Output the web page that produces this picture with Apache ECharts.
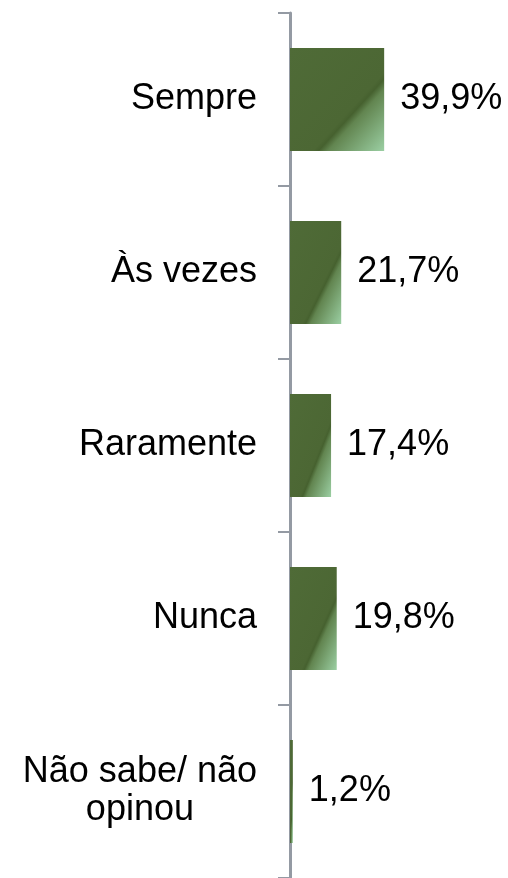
<!DOCTYPE html>
<html>
<head>
<meta charset="utf-8">
<script src="https://cdn.jsdelivr.net/npm/echarts@6/dist/echarts.min.js"></script>
<style>
html,body{margin:0;padding:0;background:#fff;}
#c{width:508px;height:878px;}
</style>
</head>
<body>
<div id="c"></div>
<script>
const categories = ['Sempre', 'Às vezes', 'Raramente', 'Nunca', 'Não sabe/ não\nopinou'];
const values = [39.9, 21.7, 17.4, 19.8, 1.2];

const FONT = '"Liberation Sans", Arial, sans-serif';
const BAR_W = 103;
const X_MAX = 50;
const GRID_W = 118;
const AXIS_COLOR = '#949aa3';

const chart = echarts.init(document.getElementById('c'), null, {renderer: 'canvas'});

function fmtPct(v) { return v.toFixed(1).replace('.', ',') + '%'; }

// diagonal gradient whose isolines run parallel to the bar's anti-diagonal
function barGradient(v) {
  const w = Math.max(0.5, v / X_MAX * GRID_W);
  const h = BAR_W;
  const d = h * h + w * w;
  return new echarts.graphic.LinearGradient(0, 0, 2 * h * h / d, 2 * w * w / d, [
    {offset: 0, color: '#4f6b37'},
    {offset: 0.62, color: '#4c6734'},
    {offset: 0.65, color: '#46612f'},
    {offset: 0.70, color: '#628550'},
    {offset: 1, color: '#9bcfa3'}
  ]);
}

const option = {
  animation: false,
  backgroundColor: '#ffffff',
  grid: {left: 290, top: 13, width: GRID_W, height: 867, containLabel: false},
  xAxis: {type: 'value', min: 0, max: X_MAX, show: false},
  yAxis: {
    type: 'category',
    inverse: true,
    data: categories,
    axisLine: {show: true, lineStyle: {color: AXIS_COLOR, width: 3}},
    axisTick: {show: true, length: 12, inside: false, lineStyle: {color: AXIS_COLOR, width: 2}},
    splitLine: {show: false},
    axisLabel: {
      interval: 0,
      margin: 33,
      color: '#000',
      fontFamily: FONT,
      fontSize: 36,
      lineHeight: 38,
      formatter: function (v) {
        return v.indexOf('\n') >= 0 ? '{c|' + v + '}' : v;
      },
      rich: {
        c: {align: 'center', color: '#000', fontFamily: FONT, fontSize: 36, lineHeight: 38}
      }
    }
  },
  series: [{
    type: 'bar',
    barWidth: BAR_W,
    data: values.map(function (v) {
      return {value: v, itemStyle: {color: barGradient(v)}};
    }),
    label: {
      show: true,
      position: 'right',
      distance: 16,
      color: '#000',
      fontFamily: FONT,
      fontSize: 36,
      formatter: function (p) { return fmtPct(p.value); }
    }
  }]
};

chart.setOption(option);
</script>
</body>
</html>
